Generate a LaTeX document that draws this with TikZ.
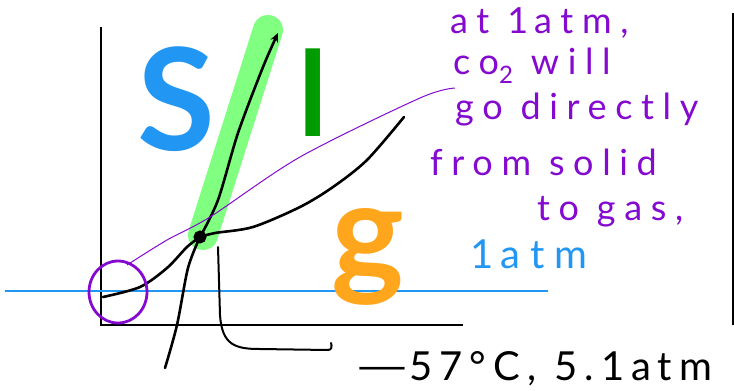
\documentclass[tikz,border=0pt]{standalone}
\usepackage{fontspec}
\setmainfont{Lato}
\newfontfamily\hand[LetterSpace=24]{Lato}
\newfontfamily\handwide[LetterSpace=18]{Lato}
\newfontfamily\handatm[LetterSpace=26]{Lato}
\usetikzlibrary{arrows.meta}

\definecolor{sblue}{RGB}{33,150,243}
\definecolor{lgreen}{RGB}{0,155,0}
\definecolor{hilite}{RGB}{128,255,128}
\definecolor{gorange}{RGB}{255,166,28}
\definecolor{note}{RGB}{132,10,208}

\tikzset{
	curve/.style = {line width=2.6pt, line cap=round, line join=round},
	axis/.style = {line width=2.4pt},
	phase/.style = {inner sep=0pt, font=\bfseries\fontsize{#1}{#1}\selectfont},
	remark/.style = {note, anchor=base west, inner sep=0pt, font=\hand\fontsize{36}{36}\selectfont},
}

\begin{document}
\begin{tikzpicture}[x=1pt, y=-1pt]
		\useasboundingbox (0,0) rectangle (734,391);
		\draw [hilite, line width=30pt, line cap=round] (268,30) -- (203,235);
		\coordinate (O) at (101,325);
		\coordinate (T) at (200,237);
		\draw [axis] (101,27) -- (O) -- (463,325);
		\draw [line width=1.3pt] (733,13) -- (733,325);
		\draw [sblue, line width=1.6pt] (5,291) -- (548,291);
		\draw [curve, -{Stealth[length=9pt, width=8pt]}] plot [smooth] coordinates {(T) (218,200) (238,133) (263,67) (278,33)};
		\draw [curve] plot [smooth] coordinates {(T) (188,268) (177,325) (165,368)};
		\draw [curve] plot [smooth] coordinates {(103,297) (140,287) (167,268) (187,247) (T)};
		\draw [curve] plot [smooth] coordinates {(T) (215,233) (253,227) (300,207) (333,187) (367,160) (404,117)};
		\draw [line width=2pt, fill=black] (T) circle (5.5);
		\draw [note, line width=1pt] plot [smooth] coordinates {(127,265) (167,240) (210,217) (300,157) (420,98) (455,88)};
		\draw [note, line width=2.8pt] (118,292) ellipse (29 and 31);
		\node [phase=142, sblue] (s) at (176,99) {S};
		\node [phase=118, lgreen] (l) at (313,93) {l};
		\node [phase=138, gorange] (g) at (368,257) {g};
		\coordinate (lead) at (218,247);
		\node [anchor=base west, inner sep=0pt, font=\handwide\fontsize{40}{40}\selectfont] (tp) at (355,380) {\scalebox{1.7}[1]{—}57°C, 5.1\,atm};
		\draw [curve, line width=2pt] (lead) -- (220,315) .. controls (222,345) and (235,349) .. (260,349) -- (328,350) .. controls (332,350) and (332,346) .. (331,343);
		\node [remark] (r1) at (450,33) {at 1\,atm,};
		\node [remark] (r2) at (453,74) {co\raisebox{-0.25em}{\fontsize{24}{24}\selectfont 2} will};
		\node [remark] (r3) at (455,119) {go directly};
		\node [remark] (r4) at (430,175) {from solid};
		\node [remark] (r5) at (537,220) {to gas,};
		\node [remark, sblue, font=\handatm\fontsize{40}{40}\selectfont] (atm) at (470,268) {1\,atm};
	\end{tikzpicture}
\end{document}
